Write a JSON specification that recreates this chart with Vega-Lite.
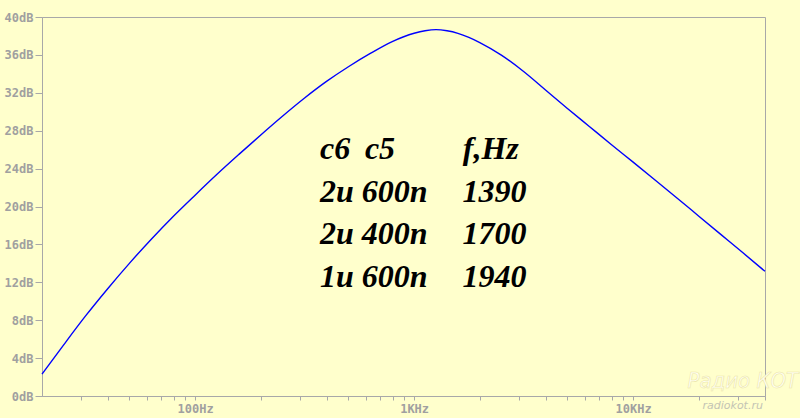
{
  "$schema": "https://vega.github.io/schema/vega-lite/v6.json",
  "width": 723,
  "height": 379,
  "autosize": {"type": "none"},
  "padding": {"left": 42, "top": 17, "right": 35, "bottom": 22},
  "background": "#ffffcc",
  "config": {"view": {"stroke": "#a8a8a8", "strokeWidth": 1, "fill": "#ffffcc"}},
  "datasets": {
    "curve": [
      {"f": 20, "dB": 2.3},
      {"f": 25.12, "dB": 5.4},
      {"f": 31.62, "dB": 8.45},
      {"f": 39.81, "dB": 11.3},
      {"f": 50.12, "dB": 14.0},
      {"f": 63.1, "dB": 16.55},
      {"f": 79.43, "dB": 18.95},
      {"f": 100, "dB": 21.2},
      {"f": 125.9, "dB": 23.4},
      {"f": 158.5, "dB": 25.5},
      {"f": 199.5, "dB": 27.55},
      {"f": 251.2, "dB": 29.55},
      {"f": 316.2, "dB": 31.45},
      {"f": 398.1, "dB": 33.2},
      {"f": 501.2, "dB": 34.75},
      {"f": 631, "dB": 36.15},
      {"f": 794.3, "dB": 37.4},
      {"f": 1000, "dB": 38.28},
      {"f": 1122, "dB": 38.55},
      {"f": 1259, "dB": 38.67},
      {"f": 1413, "dB": 38.55},
      {"f": 1585, "dB": 38.28},
      {"f": 1778, "dB": 37.85},
      {"f": 1995, "dB": 37.3},
      {"f": 2512, "dB": 35.95},
      {"f": 3162, "dB": 34.25},
      {"f": 3981, "dB": 32.3},
      {"f": 5012, "dB": 30.35},
      {"f": 6310, "dB": 28.45},
      {"f": 7943, "dB": 26.55},
      {"f": 10000, "dB": 24.68},
      {"f": 12589, "dB": 22.8},
      {"f": 15849, "dB": 20.9},
      {"f": 19953, "dB": 18.98},
      {"f": 25119, "dB": 17.06},
      {"f": 31623, "dB": 15.14},
      {"f": 40000, "dB": 13.16}
    ],
    "table": [
      {"f": 372, "dB": 24.98, "label": "c6"},
      {"f": 596, "dB": 24.98, "label": "c5"},
      {"f": 1667, "dB": 24.98, "label": "f,Hz"},
      {"f": 372, "dB": 20.51, "label": "2u"},
      {"f": 577, "dB": 20.51, "label": "600n"},
      {"f": 1662, "dB": 20.51, "label": "1390"},
      {"f": 372, "dB": 16.04, "label": "2u"},
      {"f": 577, "dB": 16.04, "label": "400n"},
      {"f": 1662, "dB": 16.04, "label": "1700"},
      {"f": 372, "dB": 11.54, "label": "1u"},
      {"f": 577, "dB": 11.54, "label": "600n"},
      {"f": 1662, "dB": 11.54, "label": "1940"}
    ],
    "wm1": [{"f": 17700, "dB": 0.8, "label": "Радио КОТ"}],
    "wm2": [{"f": 20730, "dB": -1.35, "label": "radiokot.ru"}]
  },
  "layer": [
    {
      "data": {"name": "curve"},
      "mark": {"type": "line", "color": "#0000ff", "strokeWidth": 1.4, "interpolate": "monotone"},
      "encoding": {
        "x": {
          "field": "f",
          "type": "quantitative",
          "scale": {"type": "log", "domain": [20, 40000], "nice": false},
          "axis": {
            "title": null,
            "grid": false,
            "values": [30, 40, 50, 60, 70, 80, 90, 100, 200, 300, 400, 500, 600, 700, 800, 900, 1000, 2000, 3000, 4000, 5000, 6000, 7000, 8000, 9000, 10000, 20000, 30000, 40000],
            "tickCount": 100,
            "labelExpr": "datum.value == 100 ? '100Hz' : datum.value == 1000 ? '1KHz' : datum.value == 10000 ? '10KHz' : ''",
            "labelOverlap": false,
            "labelBound": false,
            "labelFlush": false,
            "tickSize": 4,
            "labelPadding": 3,
            "labelFont": "DejaVu Sans Mono",
            "labelFontWeight": "bold",
            "labelFontSize": 12,
            "labelColor": "#a0a0a0",
            "domainColor": "#a8a8a8",
            "tickColor": "#a8a8a8"
          }
        },
        "y": {
          "field": "dB",
          "type": "quantitative",
          "scale": {"domain": [0, 40], "nice": false, "zero": false},
          "axis": {
            "title": null,
            "grid": false,
            "values": [0, 4, 8, 12, 16, 20, 24, 28, 32, 36, 40],
            "tickCount": 100,
            "labelExpr": "datum.value + 'dB'",
            "tickSize": 7,
            "labelPadding": 2,
            "labelFont": "DejaVu Sans Mono",
            "labelFontWeight": "bold",
            "labelFontSize": 12,
            "labelColor": "#a0a0a0",
            "labelBound": false,
            "labelFlush": false,
            "labelOverlap": false,
            "domainColor": "#a8a8a8",
            "tickColor": "#a8a8a8"
          }
        }
      }
    },
    {
      "data": {"name": "table"},
      "mark": {"type": "text", "font": "Liberation Serif", "fontStyle": "italic", "fontWeight": "bold", "fontSize": 32, "align": "left", "baseline": "alphabetic", "color": "#000000"},
      "encoding": {
        "x": {"field": "f", "type": "quantitative"},
        "y": {"field": "dB", "type": "quantitative"},
        "text": {"field": "label"}
      }
    },
    {
      "data": {"name": "wm1"},
      "mark": {"type": "text", "font": "DejaVu Sans Condensed, Liberation Sans Narrow, DejaVu Sans", "fontStyle": "italic", "fontSize": 22, "align": "left", "baseline": "alphabetic", "color": "#fffff2", "stroke": "#ece6a8", "strokeWidth": 0.6},
      "encoding": {
        "x": {"field": "f", "type": "quantitative"},
        "y": {"field": "dB", "type": "quantitative"},
        "text": {"field": "label"}
      }
    },
    {
      "data": {"name": "wm2"},
      "mark": {"type": "text", "font": "DejaVu Sans", "fontStyle": "italic", "fontSize": 11, "align": "left", "baseline": "alphabetic", "color": "#c4c4b4"},
      "encoding": {
        "x": {"field": "f", "type": "quantitative"},
        "y": {"field": "dB", "type": "quantitative"},
        "text": {"field": "label"}
      }
    }
  ]
}
